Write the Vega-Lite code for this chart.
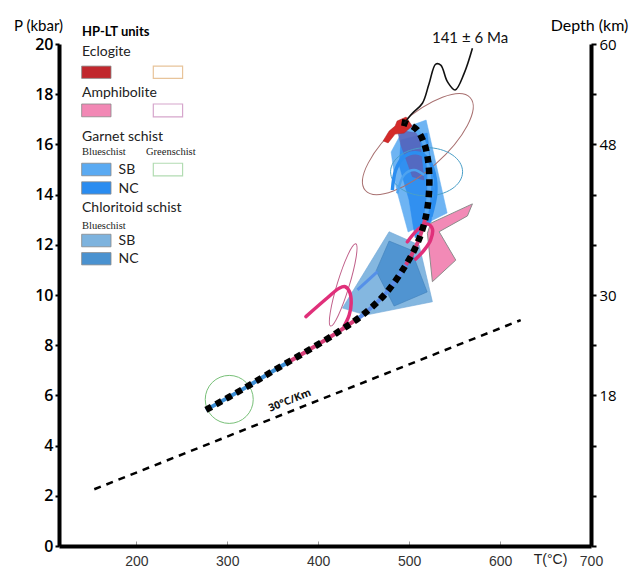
{
  "$schema": "https://vega.github.io/schema/vega-lite/v6.json",
  "width": 532,
  "height": 502,
  "autosize": {"type": "none"},
  "padding": {"left": 59, "top": 44, "right": 38, "bottom": 22},
  "config": {"view": {"stroke": null}, "axis": {"grid": false}},
  "datasets": {
    "poly": [
      {"s": "chlSB", "i": 1, "T": 478.0, "P": 12.52},
      {"s": "chlSB", "i": 2, "T": 511.0, "P": 11.99},
      {"s": "chlSB", "i": 3, "T": 525.6, "P": 9.73},
      {"s": "chlSB", "i": 4, "T": 452.4, "P": 9.20},
      {"s": "chlSB", "i": 5, "T": 426.7, "P": 9.48},
      {"s": "chlNC", "i": 1, "T": 478.0, "P": 12.15},
      {"s": "chlNC", "i": 2, "T": 502.2, "P": 11.79},
      {"s": "chlNC", "i": 3, "T": 519.8, "P": 10.12},
      {"s": "chlNC", "i": 4, "T": 483.5, "P": 9.56},
      {"s": "chlNC", "i": 5, "T": 463.7, "P": 10.96},
      {"s": "amph", "i": 1, "T": 523.8, "P": 12.86},
      {"s": "amph", "i": 2, "T": 569.6, "P": 13.63},
      {"s": "amph", "i": 3, "T": 564.1, "P": 13.15},
      {"s": "amph", "i": 4, "T": 533.0, "P": 12.52},
      {"s": "amph", "i": 5, "T": 551.3, "P": 11.39},
      {"s": "amph", "i": 6, "T": 525.6, "P": 10.53},
      {"s": "amph", "i": 7, "T": 520.1, "P": 12.46},
      {"s": "grtSB", "i": 1, "T": 494.5, "P": 16.65},
      {"s": "grtSB", "i": 2, "T": 518.7, "P": 16.97},
      {"s": "grtSB", "i": 3, "T": 541.8, "P": 13.27},
      {"s": "grtSB", "i": 4, "T": 522.0, "P": 12.91},
      {"s": "grtSB", "i": 5, "T": 498.9, "P": 12.51},
      {"s": "grtSB", "i": 6, "T": 485.7, "P": 14.26},
      {"s": "grtSB", "i": 7, "T": 480.2, "P": 15.70},
      {"s": "grtNC", "i": 1, "T": 491.2, "P": 16.18},
      {"s": "grtNC", "i": 2, "T": 519.8, "P": 16.45},
      {"s": "grtNC", "i": 3, "T": 527.5, "P": 14.18},
      {"s": "grtNC", "i": 4, "T": 524.2, "P": 12.91},
      {"s": "grtNC", "i": 5, "T": 506.6, "P": 12.27},
      {"s": "grtNC", "i": 6, "T": 500.0, "P": 13.78},
      {"s": "grtNC", "i": 7, "T": 489.0, "P": 15.18},
      {"s": "slate", "i": 1, "T": 487.1, "P": 16.57},
      {"s": "slate", "i": 2, "T": 510.9, "P": 16.44},
      {"s": "slate", "i": 3, "T": 516.4, "P": 14.58},
      {"s": "slate", "i": 4, "T": 503.6, "P": 14.71},
      {"s": "slate", "i": 5, "T": 490.9, "P": 15.98},
      {"s": "ecl", "i": 1, "T": 471.4, "P": 16.14},
      {"s": "ecl", "i": 2, "T": 478.0, "P": 16.53},
      {"s": "ecl", "i": 3, "T": 484.6, "P": 16.73},
      {"s": "ecl", "i": 4, "T": 486.8, "P": 16.93},
      {"s": "ecl", "i": 5, "T": 496.7, "P": 17.09},
      {"s": "ecl", "i": 6, "T": 503.3, "P": 16.73},
      {"s": "ecl", "i": 7, "T": 494.5, "P": 16.45},
      {"s": "ecl", "i": 8, "T": 484.6, "P": 16.41},
      {"s": "ecl", "i": 9, "T": 476.9, "P": 16.06}
    ],
    "lines": [
      {"s": "dot", "i": 1, "T": 276.6, "P": 5.42},
      {"s": "dot", "i": 2, "T": 320.5, "P": 6.32},
      {"s": "dot", "i": 3, "T": 353.5, "P": 7.04},
      {"s": "dot", "i": 4, "T": 386.5, "P": 7.74},
      {"s": "dot", "i": 5, "T": 419.4, "P": 8.47},
      {"s": "dot", "i": 6, "T": 448.7, "P": 9.20},
      {"s": "dot", "i": 7, "T": 474.4, "P": 10.07},
      {"s": "dot", "i": 8, "T": 496.4, "P": 11.20},
      {"s": "dot", "i": 9, "T": 509.1, "P": 12.06},
      {"s": "dot", "i": 10, "T": 518.4, "P": 13.12},
      {"s": "dot", "i": 11, "T": 522.0, "P": 14.18},
      {"s": "dot", "i": 12, "T": 521.2, "P": 15.25},
      {"s": "dot", "i": 13, "T": 516.5, "P": 16.04},
      {"s": "dot", "i": 14, "T": 508.0, "P": 16.60},
      {"s": "dot", "i": 15, "T": 496.4, "P": 16.84},
      {"s": "dot", "i": 16, "T": 489.0, "P": 16.90},
      {"s": "black", "i": 1, "T": 569.6, "P": 19.83},
      {"s": "black", "i": 2, "T": 560.5, "P": 18.83},
      {"s": "black", "i": 3, "T": 550.6, "P": 18.17},
      {"s": "black", "i": 4, "T": 542.1, "P": 18.50},
      {"s": "black", "i": 5, "T": 534.8, "P": 19.16},
      {"s": "black", "i": 6, "T": 529.3, "P": 19.20},
      {"s": "black", "i": 7, "T": 522.0, "P": 18.43},
      {"s": "black", "i": 8, "T": 514.6, "P": 17.64},
      {"s": "black", "i": 9, "T": 503.6, "P": 17.24},
      {"s": "black", "i": 10, "T": 494.5, "P": 16.84},
      {"s": "hook1", "i": 1, "T": 386.5, "P": 9.14},
      {"s": "hook1", "i": 2, "T": 409.9, "P": 9.88},
      {"s": "hook1", "i": 3, "T": 423.1, "P": 10.27},
      {"s": "hook1", "i": 4, "T": 429.7, "P": 10.33},
      {"s": "hook1", "i": 5, "T": 434.6, "P": 10.12},
      {"s": "hook1", "i": 6, "T": 436.3, "P": 9.68},
      {"s": "hook1", "i": 7, "T": 434.1, "P": 9.20},
      {"s": "hook1", "i": 8, "T": 428.6, "P": 8.76},
      {"s": "hook2", "i": 1, "T": 498.1, "P": 12.12},
      {"s": "hook2", "i": 2, "T": 509.1, "P": 12.59},
      {"s": "hook2", "i": 3, "T": 520.1, "P": 12.83},
      {"s": "hook2", "i": 4, "T": 525.6, "P": 12.63},
      {"s": "hook2", "i": 5, "T": 523.6, "P": 12.19},
      {"s": "hook2", "i": 6, "T": 516.5, "P": 11.79},
      {"s": "hook2", "i": 7, "T": 507.3, "P": 11.43},
      {"s": "arc1", "i": 1, "T": 481.6, "P": 14.18},
      {"s": "arc1", "i": 2, "T": 485.3, "P": 14.98},
      {"s": "arc1", "i": 3, "T": 494.5, "P": 15.51},
      {"s": "arc1", "i": 4, "T": 507.3, "P": 15.67},
      {"s": "arc1", "i": 5, "T": 520.1, "P": 15.45},
      {"s": "arc1", "i": 6, "T": 527.5, "P": 14.85},
      {"s": "arc1", "i": 7, "T": 529.3, "P": 14.05},
      {"s": "arc1", "i": 8, "T": 523.8, "P": 13.12},
      {"s": "arc2", "i": 1, "T": 487.0, "P": 14.05},
      {"s": "arc2", "i": 2, "T": 494.5, "P": 14.78},
      {"s": "arc2", "i": 3, "T": 505.5, "P": 14.98},
      {"s": "arc2", "i": 4, "T": 516.5, "P": 14.78},
      {"s": "bseg", "i": 1, "T": 443.2, "P": 10.20},
      {"s": "bseg", "i": 2, "T": 465.2, "P": 10.93},
      {"s": "grad", "i": 1, "T": 153.8, "P": 2.26},
      {"s": "grad", "i": 2, "T": 622.7, "P": 9.00}
    ],
    "under": [
      {"seg": "u1", "i": 1, "T": 276.6, "P": 5.42},
      {"seg": "u1", "i": 2, "T": 320.5, "P": 6.32},
      {"seg": "u1", "i": 3, "T": 353.5, "P": 7.04},
      {"seg": "u1", "i": 4, "T": 365.0, "P": 7.28},
      {"seg": "u2", "i": 1, "T": 365.0, "P": 7.28},
      {"seg": "u2", "i": 2, "T": 386.5, "P": 7.74},
      {"seg": "u2", "i": 3, "T": 419.4, "P": 8.47},
      {"seg": "u2", "i": 4, "T": 440.0, "P": 8.98},
      {"seg": "u3", "i": 1, "T": 440.0, "P": 8.98},
      {"seg": "u3", "i": 2, "T": 448.7, "P": 9.20},
      {"seg": "u3", "i": 3, "T": 474.4, "P": 10.07},
      {"seg": "u3", "i": 4, "T": 496.4, "P": 11.20},
      {"seg": "u4", "i": 1, "T": 496.4, "P": 11.20},
      {"seg": "u4", "i": 2, "T": 509.1, "P": 12.06},
      {"seg": "u4", "i": 3, "T": 518.4, "P": 13.12},
      {"seg": "u5", "i": 1, "T": 518.4, "P": 13.12},
      {"seg": "u5", "i": 2, "T": 522.0, "P": 14.18},
      {"seg": "u5", "i": 3, "T": 521.2, "P": 15.25},
      {"seg": "u5", "i": 4, "T": 516.5, "P": 16.04},
      {"seg": "u5", "i": 5, "T": 508.0, "P": 16.60}
    ],
    "ell": [
      {"s": "big", "T": 509.6, "P": 16.01},
      {"s": "pinkthin", "T": 427.5, "P": 10.40},
      {"s": "teal", "T": 519.2, "P": 14.91},
      {"s": "green", "T": 302.2, "P": 5.84}
    ],
    "lrect": [
      {"k": "ecl", "T": 139.9, "T2": 172.2, "P": 19.12, "P2": 18.63},
      {"k": "amph", "T": 139.9, "T2": 172.2, "P": 17.61, "P2": 17.10},
      {"k": "grtSB", "T": 139.9, "T2": 172.2, "P": 15.25, "P2": 14.75},
      {"k": "grtNC", "T": 139.9, "T2": 172.2, "P": 14.51, "P2": 14.02},
      {"k": "chlSB", "T": 139.9, "T2": 172.2, "P": 12.42, "P2": 11.92},
      {"k": "chlNC", "T": 139.9, "T2": 172.2, "P": 11.69, "P2": 11.20}
    ],
    "lrecto": [
      {"k": "eclO", "T": 218.7, "T2": 250.9, "P": 19.12, "P2": 18.63},
      {"k": "amphO", "T": 218.7, "T2": 250.9, "P": 17.61, "P2": 17.10},
      {"k": "grnO", "T": 218.7, "T2": 250.9, "P": 15.25, "P2": 14.75}
    ],
    "texts": [
      {"g": "head", "T": 140.3, "P": 20.47, "label": "HP-LT units"},
      {"g": "cat", "T": 140.3, "P": 19.67, "label": "Eclogite"},
      {"g": "cat", "T": 140.3, "P": 18.04, "label": "Amphibolite"},
      {"g": "cat", "T": 140.3, "P": 16.31, "label": "Garnet schist"},
      {"g": "cat", "T": 140.3, "P": 13.45, "label": "Chloritoid schist"},
      {"g": "small", "T": 140.3, "P": 15.71, "label": "Blueschist"},
      {"g": "small", "T": 210.7, "P": 15.71, "label": "Greenschist"},
      {"g": "small", "T": 140.3, "P": 12.75, "label": "Blueschist"},
      {"g": "code", "T": 180.5, "P": 14.98, "label": "SB"},
      {"g": "code", "T": 180.5, "P": 14.24, "label": "NC"},
      {"g": "code", "T": 180.5, "P": 12.17, "label": "SB"},
      {"g": "code", "T": 180.5, "P": 11.44, "label": "NC"},
      {"g": "ma", "T": 567.0, "P": 20.24, "label": "141 ± 6 Ma"},
      {"g": "grad", "T": 368.9, "P": 5.79, "label": "30°C/Km"}
    ],
    "depth": [{"D": 0}, {"D": 60}]
  },
  "layer": [
    {
      "encoding": {
        "x": {"field": "T", "type": "quantitative",
          "scale": {"domain": [115, 700], "nice": false, "zero": false},
          "axis": {"values": [200, 300, 400, 500, 600, 700], "title": "T(°C)", "domainWidth": 4, "domainColor": "#000", "tickColor": "#999", "tickWidth": 1, "tickSize": -5, "labelPadding": 13, "labelFont": "Liberation Sans", "labelFontSize": 14, "labelColor": "#333", "labelFlush": false, "titleFont": "Liberation Sans", "titleFontSize": 14, "titleFontWeight": "normal", "titleColor": "#222", "titleX": 491, "titleY": 13, "titleAlign": "center", "titleBaseline": "middle"}},
        "y": {"field": "P", "type": "quantitative",
          "scale": {"domain": [0, 20], "nice": false, "zero": false},
          "axis": {"values": [0, 2, 4, 6, 8, 10, 12, 14, 16, 18, 20], "title": "P (kbar)", "domainWidth": 4, "domainColor": "#000", "tickColor": "#000", "tickWidth": 2, "tickSize": 4, "labelPadding": 2, "labelFont": "Open Sans", "labelFontSize": 16, "labelFontWeight": 600, "labelColor": "#000", "labelFlush": false, "titleFont": "Lato", "titleFontSize": 15, "titleFontWeight": "normal", "titleColor": "#000", "titleAngle": 0, "titleX": -21, "titleY": -19, "titleAlign": "center", "titleBaseline": "middle"}}
      },
      "layer": [
        {"data": {"name": "lines"}, "transform": [{"filter": "datum.s == 'grad'"}],
          "mark": {"type": "line", "color": "#000", "strokeWidth": 2.5, "strokeDash": [7, 6]},
          "encoding": {"order": {"field": "i"}}},
        {"data": {"name": "poly"}, "transform": [{"filter": "datum.s == 'chlSB'"}],
          "mark": {"type": "line", "interpolate": "linear-closed", "fill": "#7db3de", "fillOpacity": 0.95, "stroke": "#6ea6d6", "strokeWidth": 0.6},
          "encoding": {"order": {"field": "i"}}},
        {"data": {"name": "poly"}, "transform": [{"filter": "datum.s == 'chlNC'"}],
          "mark": {"type": "line", "interpolate": "linear-closed", "fill": "#4a90cf", "fillOpacity": 0.9, "stroke": "#3f7fba", "strokeWidth": 0.6},
          "encoding": {"order": {"field": "i"}}},
        {"data": {"name": "poly"}, "transform": [{"filter": "datum.s == 'amph'"}],
          "mark": {"type": "line", "interpolate": "linear-closed", "fill": "#f28ab6", "fillOpacity": 1, "stroke": "#8c8c8c", "strokeWidth": 1},
          "encoding": {"order": {"field": "i"}}},
        {"data": {"name": "poly"}, "transform": [{"filter": "datum.s == 'grtSB'"}],
          "mark": {"type": "line", "interpolate": "linear-closed", "fill": "#62aef2", "fillOpacity": 0.92, "stroke": "#62aef2", "strokeWidth": 0.5},
          "encoding": {"order": {"field": "i"}}},
        {"data": {"name": "poly"}, "transform": [{"filter": "datum.s == 'grtNC'"}],
          "mark": {"type": "line", "interpolate": "linear-closed", "fill": "#2a8cf0", "fillOpacity": 0.9, "stroke": "#2a8cf0", "strokeWidth": 0.5},
          "encoding": {"order": {"field": "i"}}},
        {"data": {"name": "poly"}, "transform": [{"filter": "datum.s == 'slate'"}],
          "mark": {"type": "line", "interpolate": "linear-closed", "fill": "#5a64b8", "fillOpacity": 0.85, "stroke": "#5a64b8", "strokeWidth": 0.5},
          "encoding": {"order": {"field": "i"}}},
        {"data": {"name": "ell"}, "transform": [{"filter": "datum.s == 'big'"}],
          "mark": {"type": "point", "shape": "M-1,0A1,0.38 0 1,1 1,0A1,0.38 0 1,1 -1,0Z", "size": 19600, "angle": 318.5, "filled": false, "stroke": "#a87070", "strokeWidth": 1, "opacity": 1}},
        {"data": {"name": "ell"}, "transform": [{"filter": "datum.s == 'teal'"}],
          "mark": {"type": "point", "shape": "M-1,0A1,0.67 0 1,1 1,0A1,0.67 0 1,1 -1,0Z", "size": 5184, "filled": false, "stroke": "#4a9fc8", "strokeWidth": 1, "opacity": 1}},
        {"data": {"name": "ell"}, "transform": [{"filter": "datum.s == 'pinkthin'"}],
          "mark": {"type": "point", "shape": "M-1,0A1,0.14 0 1,1 1,0A1,0.14 0 1,1 -1,0Z", "size": 7396, "angle": 287, "filled": false, "stroke": "#c0608a", "strokeWidth": 1, "opacity": 1}},
        {"data": {"name": "ell"}, "transform": [{"filter": "datum.s == 'green'"}],
          "mark": {"type": "point", "shape": "circle", "size": 2304, "filled": false, "stroke": "#78c078", "strokeWidth": 1, "opacity": 1}},
        {"data": {"name": "poly"}, "transform": [{"filter": "datum.s == 'ecl'"}],
          "mark": {"type": "line", "interpolate": "linear-closed", "fill": "#d42a2a", "fillOpacity": 1, "stroke": "#b02020", "strokeWidth": 0.5},
          "encoding": {"order": {"field": "i"}}},
        {"data": {"name": "under"},
          "mark": {"type": "line", "strokeWidth": 4, "interpolate": "catmull-rom"},
          "encoding": {"order": {"field": "i"}, "detail": {"field": "seg"},
            "color": {"field": "seg", "type": "nominal", "legend": null,
              "scale": {"domain": ["u1", "u2", "u3", "u4", "u5"], "range": ["#3d8fd6", "#d8407a", "#5b8ee8", "#d8407a", "#5aaaf2"]}}}},
        {"data": {"name": "lines"}, "transform": [{"filter": "datum.s == 'hook1' || datum.s == 'hook2'"}],
          "mark": {"type": "line", "color": "#e0307a", "strokeWidth": 3.5, "interpolate": "catmull-rom", "strokeCap": "round"},
          "encoding": {"order": {"field": "i"}, "detail": {"field": "s"}}},
        {"data": {"name": "lines"}, "transform": [{"filter": "datum.s == 'arc1'"}],
          "mark": {"type": "line", "color": "#2b8ef0", "strokeWidth": 3.5, "interpolate": "catmull-rom"},
          "encoding": {"order": {"field": "i"}}},
        {"data": {"name": "lines"}, "transform": [{"filter": "datum.s == 'arc2'"}],
          "mark": {"type": "line", "color": "#4da3f0", "strokeWidth": 2.5, "interpolate": "catmull-rom"},
          "encoding": {"order": {"field": "i"}}},
        {"data": {"name": "lines"}, "transform": [{"filter": "datum.s == 'bseg'"}],
          "mark": {"type": "line", "color": "#5590e8", "strokeWidth": 3},
          "encoding": {"order": {"field": "i"}}},
        {"data": {"name": "lines"}, "transform": [{"filter": "datum.s == 'dot'"}],
          "mark": {"type": "line", "color": "#000", "strokeWidth": 6.5, "strokeDash": [6.5, 5], "interpolate": "catmull-rom"},
          "encoding": {"order": {"field": "i"}}},
        {"data": {"name": "lines"}, "transform": [{"filter": "datum.s == 'black'"}],
          "mark": {"type": "line", "color": "#111", "strokeWidth": 1.6, "interpolate": "catmull-rom"},
          "encoding": {"order": {"field": "i"}}},
        {"data": {"name": "lrect"},
          "mark": {"type": "rect", "stroke": "#8a8a8a", "strokeWidth": 0.8},
          "encoding": {"x2": {"field": "T2"}, "y2": {"field": "P2"},
            "fill": {"field": "k", "type": "nominal", "legend": null,
              "scale": {"domain": ["ecl", "amph", "grtSB", "grtNC", "chlSB", "chlNC"], "range": ["#c1272d", "#f288b5", "#5aaaf2", "#2a8cf0", "#7db3de", "#4a92d0"]}}}},
        {"data": {"name": "lrecto"},
          "mark": {"type": "rect", "fill": null, "strokeWidth": 1.2},
          "encoding": {"x2": {"field": "T2"}, "y2": {"field": "P2"},
            "stroke": {"field": "k", "type": "nominal", "legend": null,
              "scale": {"domain": ["eclO", "amphO", "grnO"], "range": ["#e8c49a", "#d6a6cc", "#b2dcb2"]}}}},
        {"data": {"name": "texts"}, "transform": [{"filter": "datum.g == 'head'"}],
          "mark": {"type": "text", "align": "left", "baseline": "middle", "font": "Lato", "fontSize": 13, "fontWeight": "bold", "color": "#000"},
          "encoding": {"text": {"field": "label"}}},
        {"data": {"name": "texts"}, "transform": [{"filter": "datum.g == 'cat'"}],
          "mark": {"type": "text", "align": "left", "baseline": "middle", "font": "Lato", "fontSize": 14, "color": "#222"},
          "encoding": {"text": {"field": "label"}}},
        {"data": {"name": "texts"}, "transform": [{"filter": "datum.g == 'small'"}],
          "mark": {"type": "text", "align": "left", "baseline": "middle", "font": "Liberation Serif", "fontSize": 10.5, "color": "#222"},
          "encoding": {"text": {"field": "label"}}},
        {"data": {"name": "texts"}, "transform": [{"filter": "datum.g == 'code'"}],
          "mark": {"type": "text", "align": "left", "baseline": "middle", "font": "Lato", "fontSize": 14, "color": "#222"},
          "encoding": {"text": {"field": "label"}}},
        {"data": {"name": "texts"}, "transform": [{"filter": "datum.g == 'ma'"}],
          "mark": {"type": "text", "align": "center", "baseline": "middle", "font": "Lato", "fontSize": 15, "color": "#111"},
          "encoding": {"text": {"field": "label"}}},
        {"data": {"name": "texts"}, "transform": [{"filter": "datum.g == 'grad'"}],
          "mark": {"type": "text", "align": "center", "baseline": "middle", "font": "Open Sans", "fontSize": 10.5, "fontWeight": "bold", "angle": 338, "color": "#111"},
          "encoding": {"text": {"field": "label"}}}
      ]
    },
    {
      "data": {"name": "depth"},
      "mark": {"type": "point", "opacity": 0},
      "encoding": {
        "y": {"field": "D", "type": "quantitative",
          "scale": {"domain": [0, 60], "nice": false, "zero": false},
          "axis": {"orient": "right", "values": [0, 6, 12, 18, 24, 30, 36, 42, 48, 54, 60], "labelExpr": "indexof([60, 48, 30, 18], datum.value) >= 0 ? datum.label : ''", "title": "Depth (km)", "domainWidth": 4, "domainColor": "#000", "tickColor": "#000", "tickWidth": 2, "tickSize": 5, "labelPadding": 3, "labelFont": "Open Sans", "labelFontSize": 15, "labelColor": "#000", "labelFlush": false, "titleFont": "Lato", "titleFontSize": 16, "titleFontWeight": "normal", "titleColor": "#000", "titleAngle": 0, "titleX": -2, "titleY": -19, "titleAlign": "center", "titleBaseline": "middle"}}
      }
    }
  ],
  "resolve": {"scale": {"y": "independent"}}
}
